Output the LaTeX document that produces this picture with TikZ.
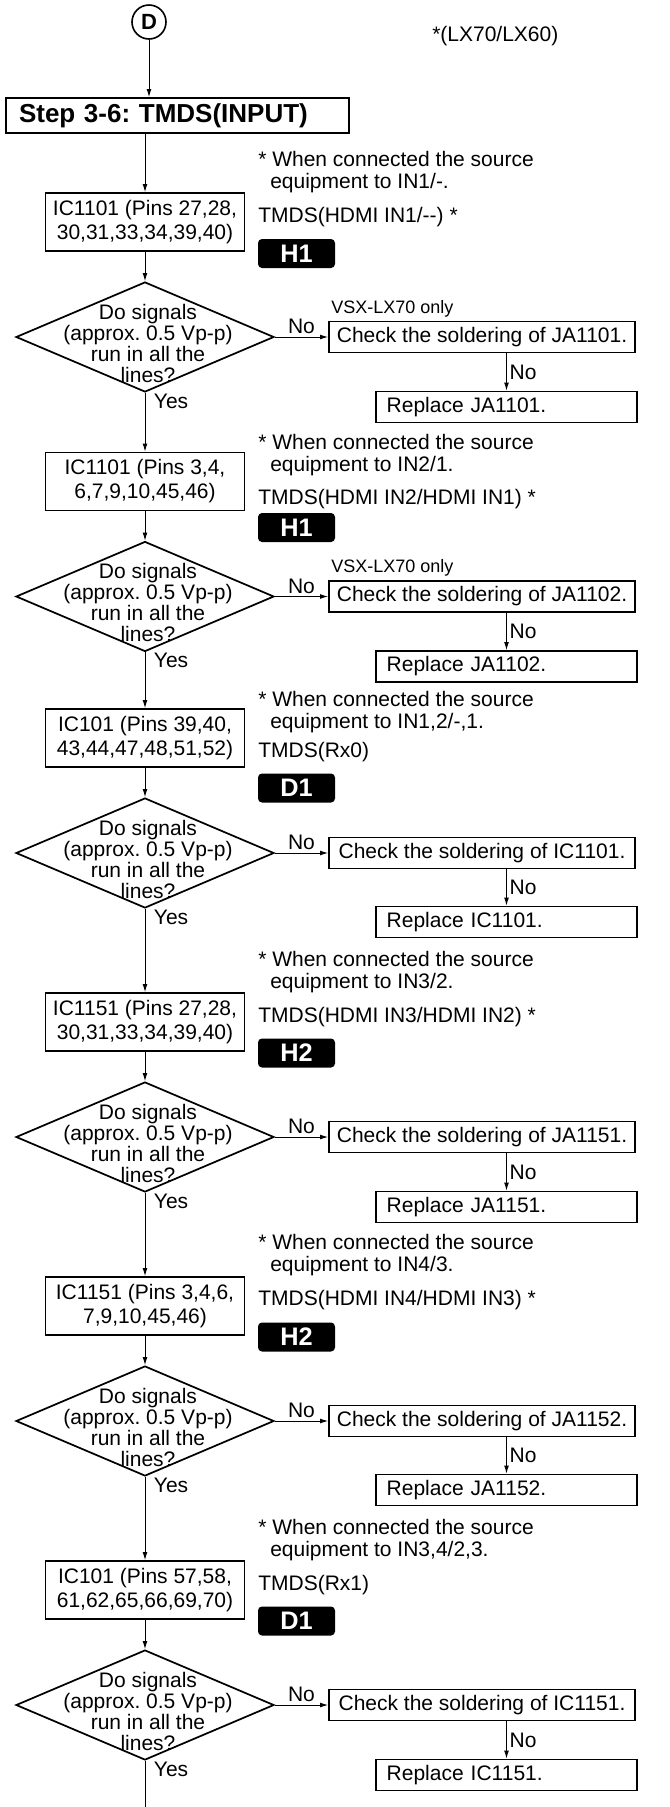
\documentclass[tikz,border=0pt]{standalone}
\usepackage{fontspec}
\setmainfont{Liberation Sans}
\usetikzlibrary{shapes.geometric,arrows.meta}
\frenchspacing

\begin{document}
\begin{tikzpicture}[
    x=0.75pt, y=-0.75pt,
    >={Latex[length=6pt,width=3.6pt]},
    icbox/.style={
      rectangle, draw=black, line width=1.3pt,
      minimum width=149.25pt, minimum height=43.5pt,
      font=\fontsize{15.75}{18}\selectfont, align=center,
      inner sep=1pt,
    },
    decide/.style={
      diamond, draw=black, line width=1.3pt,
      minimum width=193.5pt, minimum height=82.5pt,
      inner sep=0pt,
    },
    dtext/.style={
      font=\fontsize{15.75}{15.75}\selectfont, align=center,
      inner sep=0pt,
    },
    chkbox/.style={
      rectangle, draw=black, line width=1.3pt,
      minimum width=229.5pt, minimum height=23.25pt,
      font=\fontsize{15.75}{18}\selectfont,
      inner xsep=2pt, inner ysep=1pt,
    },
    repbox/.style={
      rectangle, draw=black, line width=1.3pt,
      text width=179.75pt, align=left,
      minimum height=23.25pt,
      font=\fontsize{15.75}{18}\selectfont,
      inner xsep=8pt, inner ysep=1pt,
    },
    stepbox/.style={
      rectangle, draw=black, line width=1.3pt,
      text width=237.75pt, align=left,
      minimum height=26.25pt,
      font=\fontsize{19.5}{21}\selectfont\bfseries,
      inner xsep=9.75pt, inner ysep=1pt,
    },
    tagbox/.style={
      rectangle, rounded corners=3pt, fill=black,
      minimum width=57.75pt, minimum height=21.75pt,
      text=white, font=\fontsize{19}{20}\selectfont\bfseries,
      inner sep=0pt,
    },
    circ/.style={
      circle, draw=black, line width=1.2pt,
      minimum size=25.5pt, inner sep=0pt,
      font=\fontsize{16.5}{17}\selectfont\bfseries,
    },
    note/.style={
      anchor=west, align=left, inner sep=0pt,
      font=\fontsize{15.75}{16.5}\selectfont,
    },
    txt/.style={anchor=west, inner sep=0pt, font=\fontsize{15.75}{18}\selectfont},
    small/.style={anchor=west, inner sep=0pt, font=\fontsize{13.5}{15}\selectfont},
    lab/.style={font=\fontsize{15.75}{18}\selectfont, inner sep=2pt},
    wire/.style={draw=black, line width=0.7pt},
  ]

  \useasboundingbox (0,0) rectangle (669,1807);

  % --- start ---
  \node[circ] (dc) at (149,22) {D};
  \node[txt] (mdl) at (432,36) {*(LX70/LX60)};
  \node[stepbox] (st) at (177.5,115.5) {Step 3-6: TMDS(INPUT)};
  \draw[wire, ->] (dc) -- (dc |- st.north);

  % ================================================================
  %  BLOCK 1  --  IC1101, IN1
  % ================================================================
  \node[note] (n1) at (258,172)
    {* When connected the source\\\hspace*{9pt}equipment to IN1/-.};
  \node[icbox] (ic1) at (145,222) {IC1101 (Pins 27,28,\\30,31,33,34,39,40)};
  \node[txt] (t1) at (258,217) {TMDS(HDMI IN1/-{}-) *};
  \node[tagbox] (g1) at (296.5,253.5) {H1};
  \node[decide] (d1) at (145,337) {};
  \node[dtext] (q1) at (148,343) {Do signals\\(approx. 0.5 Vp-p)\\run in all the\\lines?};
  \node[small] (v1) at (331,309) {VSX-LX70 only};
  \node[chkbox] (c1) at (482,337) {Check the soldering of JA1101.};
  \node[repbox] (r1) at (506.5,407) {Replace JA1101.};
  \node[lab, anchor=west] (y1) at (151,401) {Yes};
  \draw[wire, ->] (st.south -| ic1.north) -- (ic1.north);
  \draw[wire, ->] (ic1) -- (d1.north);
  \draw[wire, ->] (d1.east) -- node[lab, above] {No} (c1.west);
  \draw[wire, ->] (r1.north |- c1.south) -- node[lab, right] {No} (r1.north);

  % ================================================================
  %  BLOCK 2  --  IC1101, IN2
  % ================================================================
  \node[note] (n2) at (258,455)
    {* When connected the source\\\hspace*{9pt}equipment to IN2/1.};
  \node[icbox] (ic2) at (145,481.5) {IC1101 (Pins 3,4,\\6,7,9,10,45,46)};
  \node[txt] (t2) at (258,499) {TMDS(HDMI IN2/HDMI IN1) *};
  \node[tagbox] (g2) at (296.5,527.5) {H1};
  \node[decide] (d2) at (145,596.5) {};
  \node[dtext] (q2) at (148,602.5) {Do signals\\(approx. 0.5 Vp-p)\\run in all the\\lines?};
  \node[small] (v2) at (331,568) {VSX-LX70 only};
  \node[chkbox] (c2) at (482,596.5) {Check the soldering of JA1102.};
  \node[repbox] (r2) at (506.5,666.5) {Replace JA1102.};
  \node[lab, anchor=west] (y2) at (151,660.5) {Yes};
  \draw[wire, ->] (d1.south) -- (ic2.north);
  \draw[wire, ->] (ic2) -- (d2.north);
  \draw[wire, ->] (d2.east) -- node[lab, above] {No} (c2.west);
  \draw[wire, ->] (r2.north |- c2.south) -- node[lab, right] {No} (r2.north);

  % ================================================================
  %  BLOCK 3  --  IC101, Rx0
  % ================================================================
  \node[note] (n3) at (258,712)
    {* When connected the source\\\hspace*{9pt}equipment to IN1,2/-,1.};
  \node[icbox] (ic3) at (145,738) {IC101 (Pins 39,40,\\43,44,47,48,51,52)};
  \node[txt] (t3) at (258,752) {TMDS(Rx0)};
  \node[tagbox] (g3) at (296.5,788) {D1};
  \node[decide] (d3) at (145,853) {};
  \node[dtext] (q3) at (148,859) {Do signals\\(approx. 0.5 Vp-p)\\run in all the\\lines?};
  \node[chkbox] (c3) at (482,853) {Check the soldering of IC1101.};
  \node[repbox] (r3) at (506.5,922) {Replace IC1101.};
  \node[lab, anchor=west] (y3) at (151,917) {Yes};
  \draw[wire, ->] (d2.south) -- (ic3.north);
  \draw[wire, ->] (ic3) -- (d3.north);
  \draw[wire, ->] (d3.east) -- node[lab, above] {No} (c3.west);
  \draw[wire, ->] (r3.north |- c3.south) -- node[lab, right] {No} (r3.north);

  % ================================================================
  %  BLOCK 4  --  IC1151, IN3
  % ================================================================
  \node[note] (n4) at (258,972)
    {* When connected the source\\\hspace*{9pt}equipment to IN3/2.};
  \node[icbox] (ic4) at (145,1022) {IC1151 (Pins 27,28,\\30,31,33,34,39,40)};
  \node[txt] (t4) at (258,1017) {TMDS(HDMI IN3/HDMI IN2) *};
  \node[tagbox] (g4) at (296.5,1053) {H2};
  \node[decide] (d4) at (145,1137) {};
  \node[dtext] (q4) at (148,1143) {Do signals\\(approx. 0.5 Vp-p)\\run in all the\\lines?};
  \node[chkbox] (c4) at (482,1137) {Check the soldering of JA1151.};
  \node[repbox] (r4) at (506.5,1207) {Replace JA1151.};
  \node[lab, anchor=west] (y4) at (151,1201) {Yes};
  \draw[wire, ->] (d3.south) -- (ic4.north);
  \draw[wire, ->] (ic4) -- (d4.north);
  \draw[wire, ->] (d4.east) -- node[lab, above] {No} (c4.west);
  \draw[wire, ->] (r4.north |- c4.south) -- node[lab, right] {No} (r4.north);

  % ================================================================
  %  BLOCK 5  --  IC1151, IN4
  % ================================================================
  \node[note] (n5) at (258,1255)
    {* When connected the source\\\hspace*{9pt}equipment to IN4/3.};
  \node[icbox] (ic5) at (145,1306) {IC1151 (Pins 3,4,6,\\7,9,10,45,46)};
  \node[txt] (t5) at (258,1300) {TMDS(HDMI IN4/HDMI IN3) *};
  \node[tagbox] (g5) at (296.5,1337) {H2};
  \node[decide] (d5) at (145,1421) {};
  \node[dtext] (q5) at (148,1427) {Do signals\\(approx. 0.5 Vp-p)\\run in all the\\lines?};
  \node[chkbox] (c5) at (482,1421) {Check the soldering of JA1152.};
  \node[repbox] (r5) at (506.5,1490) {Replace JA1152.};
  \node[lab, anchor=west] (y5) at (151,1485) {Yes};
  \draw[wire, ->] (d4.south) -- (ic5.north);
  \draw[wire, ->] (ic5) -- (d5.north);
  \draw[wire, ->] (d5.east) -- node[lab, above] {No} (c5.west);
  \draw[wire, ->] (r5.north |- c5.south) -- node[lab, right] {No} (r5.north);

  % ================================================================
  %  BLOCK 6  --  IC101, Rx1
  % ================================================================
  \node[note] (n6) at (258,1540)
    {* When connected the source\\\hspace*{9pt}equipment to IN3,4/2,3.};
  \node[icbox] (ic6) at (145,1590) {IC101 (Pins 57,58,\\61,62,65,66,69,70)};
  \node[txt] (t6) at (258,1585) {TMDS(Rx1)};
  \node[tagbox] (g6) at (296.5,1621) {D1};
  \node[decide] (d6) at (145,1705) {};
  \node[dtext] (q6) at (148,1711) {Do signals\\(approx. 0.5 Vp-p)\\run in all the\\lines?};
  \node[chkbox] (c6) at (482,1705) {Check the soldering of IC1151.};
  \node[repbox] (r6) at (506.5,1775) {Replace IC1151.};
  \node[lab, anchor=west] (y6) at (151,1769) {Yes};
  \coordinate (bot) at (145,1807);
  \draw[wire, ->] (d5.south) -- (ic6.north);
  \draw[wire, ->] (ic6) -- (d6.north);
  \draw[wire, ->] (d6.east) -- node[lab, above] {No} (c6.west);
  \draw[wire, ->] (r6.north |- c6.south) -- node[lab, right] {No} (r6.north);
  \draw[wire] (d6.south) -- (bot);

\end{tikzpicture}
\end{document}
